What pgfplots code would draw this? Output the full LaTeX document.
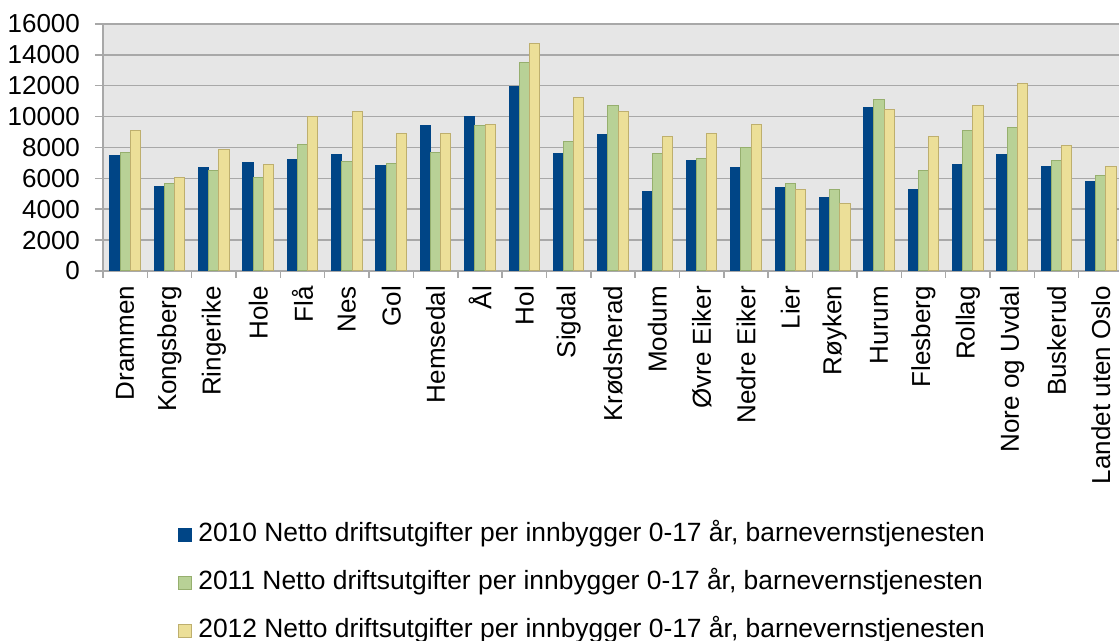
\documentclass[border=0pt]{standalone}
\usepackage{pgfplots}
\usepackage{pgfplotstable}
\pgfplotsset{compat=1.18}
\usepackage{fontspec}
\setmainfont{Liberation Sans}

\definecolor{c2010}{HTML}{004586}
\definecolor{c2011}{HTML}{B8D196}
\definecolor{c2011e}{HTML}{96AF6E}
\definecolor{c2012}{HTML}{ECDF98}
\definecolor{c2012e}{HTML}{BEAF6E}
\definecolor{plotbg}{HTML}{E6E6E6}
\definecolor{gridc}{HTML}{A8A8A8}

% idx, 2010, 2011, 2012
\pgfplotstableread{
idx a b c
0 7500 7690 9090
1 5460 5680 6050
2 6700 6480 7880
3 7000 6070 6890
4 7210 8210 10040
5 7520 7080 10320
6 6820 6980 8900
7 9420 7690 8900
8 10040 9420 9500
9 11940 13480 14710
10 7600 8380 11230
11 8830 10710 10300
12 5160 7600 8700
13 7190 7280 8900
14 6700 7990 9500
15 5380 5660 5250
16 4770 5250 4340
17 10560 11140 10430
18 5290 6480 8700
19 6890 9090 10710
20 7520 9310 12140
21 6800 7170 8100
22 5790 6180 6780
}\datatable

\begin{document}
\begin{tikzpicture}
\path[use as bounding box] (-51.5pt,-185pt) rectangle (508pt,135.5pt);
\begin{axis}[
    at={(0,0)}, anchor=south west,
    scale only axis,
    width=510pt, height=123.5pt,
    font=\fontsize{13}{15.5}\selectfont,
    axis background/.style={fill=plotbg},
    axis lines*=left,
    axis line style={draw=gridc, line width=0.75pt},
    ybar=0pt, bar width=5.1pt,
    xmin=-0.5, xmax=22.5,
    ymin=0, ymax=16000,
    scaled y ticks=false,
    xtick={0,...,22},
    xticklabels={Drammen,Kongsberg,Ringerike,Hole,Flå,Nes,Gol,Hemsedal,Ål,Hol,Sigdal,Krødsherad,Modum,Øvre Eiker,Nedre Eiker,Lier,Røyken,Hurum,Flesberg,Rollag,Nore og Uvdal,Buskerud,Landet uten Oslo},
    minor xtick={-0.5,0.5,...,22.5},
    ytick={0,2000,...,16000},
    tick align=outside,
    major x tick style={draw=none},
    minor x tick style={draw=gridc, line width=0.75pt},
    y tick style={draw=gridc, line width=0.75pt},
    minor tick length=3.5pt,
    major tick length=4pt,
    ymajorgrids,
    major grid style={draw=gridc, line width=0.75pt},
    xticklabel style={rotate=90, anchor=east},
    yticklabel style={anchor=east, xshift=-4pt},
    /pgf/number format/1000 sep={},
    /pgf/number format/assume math mode=true,
    legend style={at={(0.0735,-1.0202)}, anchor=north west,
        draw=none, fill=none, inner sep=0pt, row sep=12pt,
        column sep=3pt,
        nodes={inner sep=0pt, text height=9pt, text depth=3pt},
        font=\fontsize{13.2}{15.5}\selectfont},
    legend cell align=left,
    legend image code/.code={\draw[#1] (0pt,-3.25pt) rectangle (6.5pt,3.25pt);},
]
\addplot[fill=c2010, draw=c2010, line width=0.5pt] table[x=idx, y=a] {\datatable};
\addlegendentry{2010 Netto driftsutgifter per innbygger 0-17 år, barnevernstjenesten}
\addplot[fill=c2011, draw=c2011e, line width=0.5pt] table[x=idx, y=b] {\datatable};
\addlegendentry{2011 Netto driftsutgifter per innbygger 0-17 år, barnevernstjenesten}
\addplot[fill=c2012, draw=c2012e, line width=0.5pt] table[x=idx, y=c] {\datatable};
\addlegendentry{2012 Netto driftsutgifter per innbygger 0-17 år, barnevernstjenesten}
\end{axis}
\end{tikzpicture}
\end{document}
